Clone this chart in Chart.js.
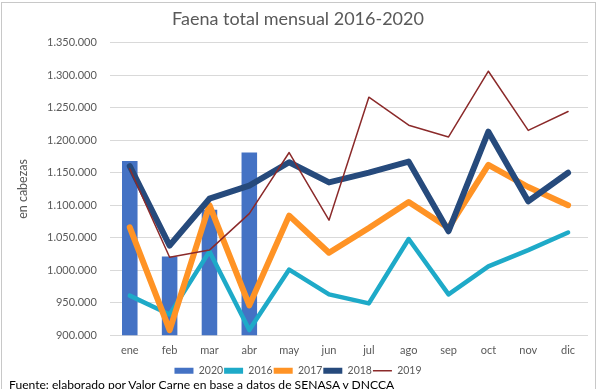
<!DOCTYPE html>
<html>
<head>
<meta charset="utf-8">
<script src="https://cdn.jsdelivr.net/npm/chart.js@4"></script>
<style>
  html, body { margin: 0; padding: 0; background: #fff; }
  #wrap { position: relative; width: 600px; height: 389px; overflow: hidden; }
  #frame { position: absolute; left: 1px; top: 2px; width: 595px; height: 400px;
           border: 1px solid #c8c8c8; box-sizing: border-box; }
  #fuente { position: absolute; left: 9px; top: 377px; font: 12.1px Lato, sans-serif;
            color: #000; white-space: nowrap; }
</style>
</head>
<body>
<div id="wrap">
  <div id="frame"></div>
  <canvas id="faena" width="600" height="389"></canvas>
  <div id="fuente">Fuente: elaborado por Valor Carne en base a datos de SENASA y DNCCA</div>
</div>
<script>
const meses = ['ene', 'feb', 'mar', 'abr', 'may', 'jun', 'jul', 'ago', 'sep', 'oct', 'nov', 'dic'];

// cabezas faenadas por mes
const faena2020 = [1168000, 1021000, 1093000, 1181000];
const faena2016 = [961000, 932000, 1029000, 908000, 1001000, 963000, 949000, 1048000, 963000, 1006000, 1031000, 1058000];
const faena2017 = [1066000, 908000, 1100000, 946000, 1084000, 1027000, 1065000, 1105000, 1065000, 1162000, 1128000, 1100000];
const faena2018 = [1160000, 1038000, 1110000, 1130000, 1166000, 1135000, 1150000, 1167000, 1060000, 1213000, 1106000, 1150000];
const faena2019 = [1156000, 1020000, 1031000, 1087000, 1181000, 1077000, 1266000, 1223000, 1205000, 1306000, 1215000, 1244000];

const gris = '#595959';

function puntos(v) {
  return String(Math.round(v)).replace(/\B(?=(\d{3})+(?!\d))/g, '.');
}

function linea(label, data, color, width, order) {
  return {
    type: 'line', label: label, data: data,
    borderColor: color, backgroundColor: color,
    borderWidth: width, pointRadius: 0, tension: 0,
    borderJoinStyle: 'round', borderCapStyle: 'round',
    order: order
  };
}

// sube un poco la leyenda, como en el original
const subirLeyenda = {
  id: 'subirLeyenda',
  afterLayout(chart) {
    if (chart.legend) {
      chart.legend.top -= 2;
      chart.legend.bottom -= 2;
    }
  }
};

const ctx = document.getElementById('faena').getContext('2d');
new Chart(ctx, {
  data: {
    labels: meses,
    datasets: [
      { type: 'bar', label: '2020', data: faena2020, backgroundColor: '#4472C4',
        barPercentage: 0.78, categoryPercentage: 0.5, order: 5 },
      linea('2016', faena2016, '#1EAAC8', 4.5, 4),
      linea('2017', faena2017, '#FF9325', 6, 3),
      linea('2018', faena2018, '#264A7C', 6, 2),
      linea('2019', faena2019, '#8B2A2A', 1.5, 1)
    ]
  },
  plugins: [subirLeyenda],
  options: {
    responsive: false,
    animation: false,
    layout: { padding: { left: 8, right: 12, bottom: 1 } },
    plugins: {
      tooltip: { enabled: false },
      title: {
        display: true, text: 'Faena total mensual 2016-2020', color: gris,
        font: { family: 'Lato', size: 18, weight: 'normal' },
        padding: { top: 8, bottom: 13 }
      },
      legend: {
        position: 'bottom',
        labels: {
          color: gris, font: { family: 'Lato', size: 10.5 },
          usePointStyle: true, boxHeight: 6, pointStyleWidth: 19, padding: 1,
          sort: (a, b) => a.datasetIndex - b.datasetIndex,
          generateLabels: (chart) => chart.data.datasets.map((ds, i) => ({
            text: ds.label,
            datasetIndex: i,
            fillStyle: ds.label === '2019' ? 'rgba(0,0,0,0)' : (ds.type === 'bar' ? ds.backgroundColor : ds.borderColor),
            strokeStyle: ds.type === 'bar' ? ds.backgroundColor : ds.borderColor,
            lineWidth: ds.label === '2019' ? 1.5 : 0,
            pointStyle: ds.label === '2019' ? 'line' : 'rect',
            fontColor: gris,
            hidden: false
          }))
        }
      }
    },
    scales: {
      x: {
        grid: { display: false, drawTicks: false },
        border: { display: false },
        ticks: { color: gris, font: { family: 'Lato', size: 11 }, padding: 9 }
      },
      y: {
        min: 900000, max: 1350000,
        grid: { color: '#d9d9d9', drawTicks: false },
        border: { display: false },
        ticks: { stepSize: 50000, color: gris, font: { family: 'Lato', size: 11 }, padding: 13,
                 callback: (v) => puntos(v) },
        title: { display: true, text: 'en cabezas', color: gris,
                 font: { family: 'Lato', size: 12.5 }, padding: { top: 7, bottom: 4 } }
      }
    }
  }
});
</script>
</body>
</html>
